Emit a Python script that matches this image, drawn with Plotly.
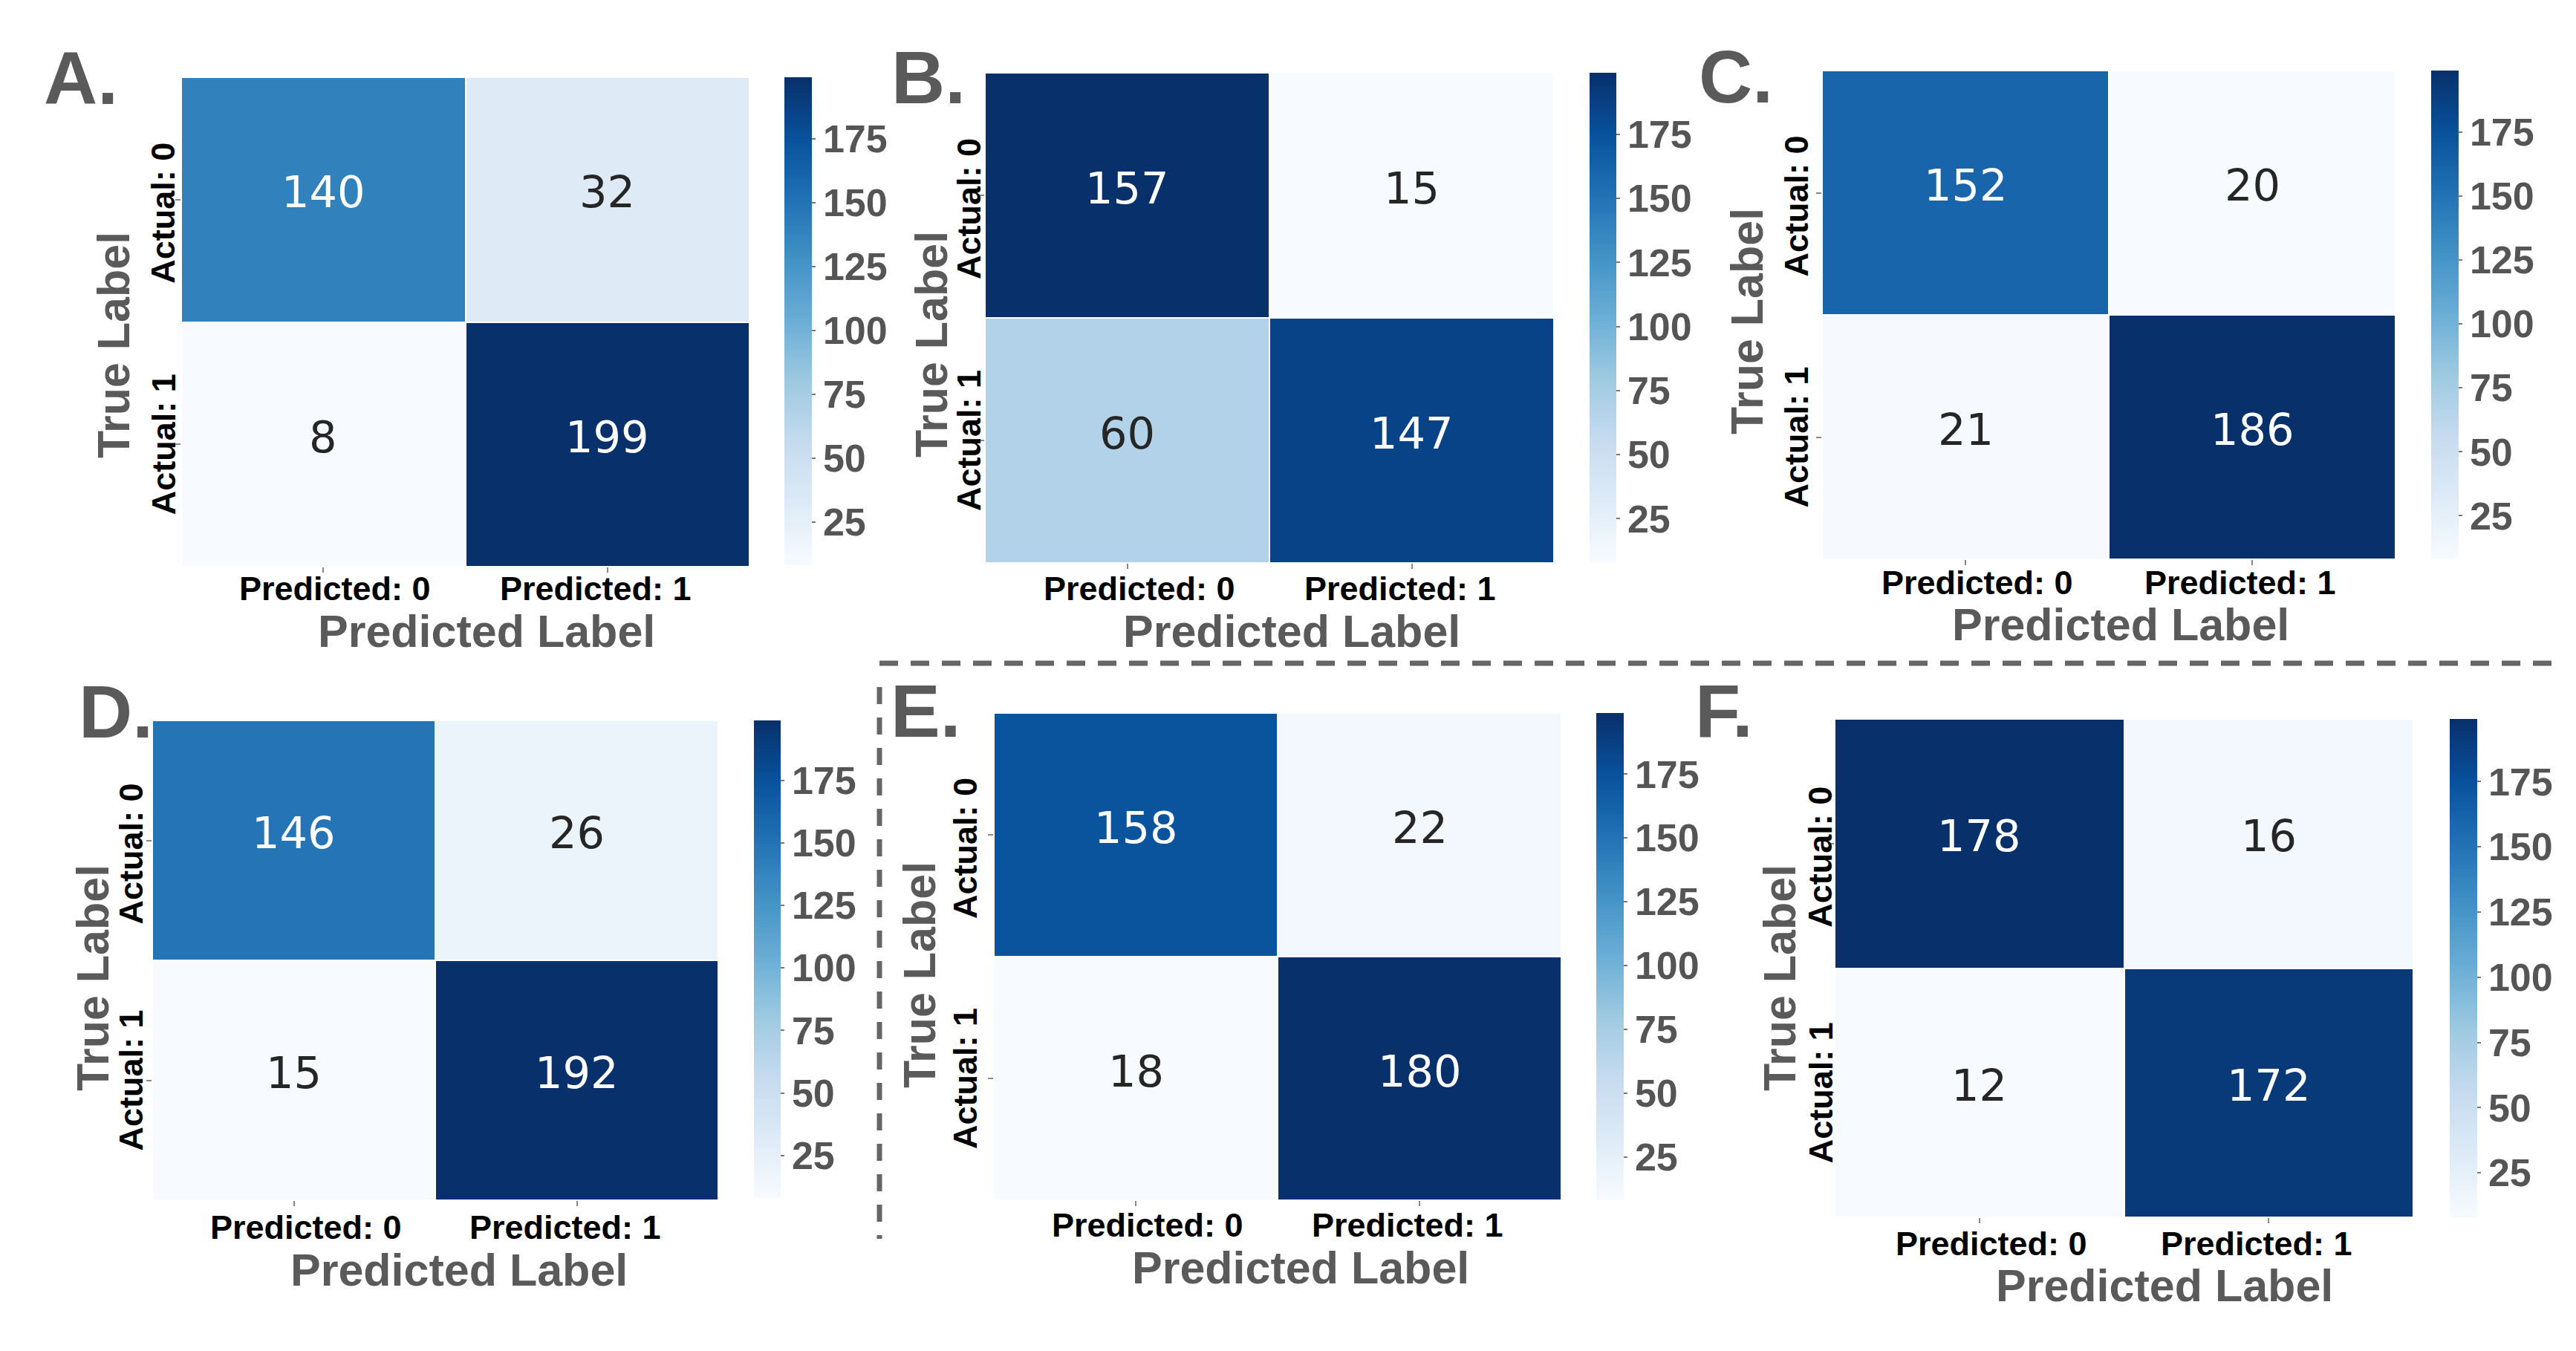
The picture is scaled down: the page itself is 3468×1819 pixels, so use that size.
import plotly.graph_objects as go

# ---------------- data ----------------
panel_names = ["A.", "B.", "C.", "D.", "E.", "F."]
cm_A = [[140, 32], [8, 199]]
cm_B = [[157, 15], [60, 147]]
cm_C = [[152, 20], [21, 186]]
cm_D = [[146, 26], [15, 192]]
cm_E = [[158, 22], [18, 180]]
cm_F = [[178, 16], [12, 172]]
matrices = [cm_A, cm_B, cm_C, cm_D, cm_E, cm_F]
x_labels = ["Predicted: 0", "Predicted: 1"]
y_labels = ["Actual: 0", "Actual: 1"]
cbar_ticks = [25, 50, 75, 100, 125, 150, 175]
x_title = "Predicted Label"
y_title = "True Label"

# ---------------- layout (pixels) ----------------
W, H = 3468, 1819
# heatmap box (l,t,r,b), colorbar box, letter centre, y-title centre, y-tick x, x-tick y, x-title centre
layout_px = [
    dict(hm=(236, 96, 1001, 755), cb=(1048, 96, 1085, 753), let=(101, 97), yt=(145, 457), ytx=212, xty=785, xt=(647, 842)),
    dict(hm=(1318, 90, 2084, 750), cb=(2132, 90, 2168, 749), let=(1242, 96), yt=(1246, 456), ytx=1296, xty=785, xt=(1731, 842)),
    dict(hm=(2445, 87, 3217, 745), cb=(3265, 87, 3302, 745), let=(2329, 95), yt=(2344, 425), ytx=2410, xty=776, xt=(2847, 833)),
    dict(hm=(197, 962, 959, 1608), cb=(1007, 962, 1043, 1605), let=(148, 950), yt=(117, 1309), ytx=168, xty=1644, xt=(610, 1702)),
    dict(hm=(1330, 952, 2094, 1608), cb=(2141, 952, 2178, 1608), let=(1238, 949), yt=(1230, 1305), ytx=1291, xty=1641, xt=(1743, 1699)),
    dict(hm=(2462, 960, 3241, 1631), cb=(3290, 960, 3327, 1631), let=(2313, 949), yt=(2388, 1309), ytx=2443, xty=1666, xt=(2906, 1723)),
]

BLUES = ["#f7fbff", "#deebf7", "#c6dbef", "#9ecae1", "#6baed6",
         "#4292c6", "#2171b5", "#08519c", "#08306b"]
colorscale = [[i / (len(BLUES) - 1), c] for i, c in enumerate(BLUES)]

GRAY = "#5a5a5a"
SANS = "Liberation Sans"


def px_x(p):
    return p / W


def px_y(p):
    return 1 - p / H


def hex_rgb(h):
    h = h.lstrip("#")
    return tuple(int(h[i:i + 2], 16) / 255 for i in (0, 2, 4))


def color_at(t):
    t = min(max(t, 0), 1) * (len(BLUES) - 1)
    i = min(int(t), len(BLUES) - 2)
    f = t - i
    a, b = hex_rgb(BLUES[i]), hex_rgb(BLUES[i + 1])
    return tuple(a[k] + (b[k] - a[k]) * f for k in range(3))


def luminance(rgb):
    lin = [c / 12.92 if c <= 0.03928 else ((c + 0.055) / 1.055) ** 2.4 for c in rgb]
    return 0.2126 * lin[0] + 0.7152 * lin[1] + 0.0722 * lin[2]


all_vals = [v for m in matrices for row in m for v in row]
gmin, gmax = min(all_vals), max(all_vals)

fig = go.Figure()
annotations = []

for k, (name, cm, L) in enumerate(zip(panel_names, matrices, layout_px)):
    n = k + 1
    xa = "x" if n == 1 else f"x{n}"
    ya = "y" if n == 1 else f"y{n}"
    flat = [v for row in cm for v in row]
    zmin, zmax = min(flat), max(flat)

    fig.add_trace(go.Heatmap(
        z=cm, x=[0, 1], y=[0, 1], colorscale=colorscale, zmin=zmin, zmax=zmax,
        showscale=False, xgap=2, ygap=2, hoverinfo="z", xaxis=xa, yaxis=ya))

    cl, ct, cr, cbt = L["cb"]
    fig.add_trace(go.Scatter(
        x=[None], y=[None], mode="markers", xaxis=xa, yaxis=ya, hoverinfo="skip",
        showlegend=False,
        marker=dict(color=[gmin, gmax], cmin=gmin, cmax=gmax, colorscale=colorscale,
                    showscale=True,
                    colorbar=dict(x=px_x(cl), xanchor="left", y=px_y(ct), yanchor="top",
                                  len=cbt - ct, lenmode="pixels",
                                  thickness=cr - cl, thicknessmode="pixels",
                                  xpad=0, ypad=0, outlinewidth=0,
                                  tickvals=cbar_ticks, ticks="outside", ticklen=5,
                                  tickwidth=2, tickcolor="#777",
                                  tickfont=dict(family=SANS, size=52, color="#555", weight="bold")))))

    l, t, r, b = L["hm"]
    axis_common = dict(showgrid=False, zeroline=False, showticklabels=False,
                       ticks="outside", ticklen=7, tickwidth=2, tickcolor="#888",
                       tickvals=[0, 1], showline=False, fixedrange=True)
    fig.update_layout(**{
        ("xaxis" if n == 1 else f"xaxis{n}"): dict(domain=[px_x(l), px_x(r)], range=[-0.5, 1.5],
                                                  anchor=ya, **axis_common),
        ("yaxis" if n == 1 else f"yaxis{n}"): dict(domain=[px_y(b), px_y(t)], range=[1.5, -0.5],
                                                  anchor=xa, **axis_common),
    })

    # cell values
    for i in range(2):
        for j in range(2):
            v = cm[i][j]
            rgb = color_at((v - zmin) / (zmax - zmin))
            tc = "#262626" if luminance(rgb) > 0.408 else "white"
            annotations.append(dict(x=j, y=i, xref=xa, yref=ya, text=str(v), showarrow=False,
                                    font=dict(family="DejaVu Sans", size=59, color=tc),
                                    xanchor="center", yanchor="middle", yshift=10))

    # x tick labels
    for j, lab in enumerate(x_labels):
        annotations.append(dict(x=j, y=px_y(L["xty"]), xref=xa, yref="paper", text=lab,
                                showarrow=False, xanchor="center", yanchor="middle",
                                xshift=16 if j == 0 else -16, borderpad=0,
                                font=dict(family=SANS, size=45, color="black", weight="bold")))
    # y tick labels
    for i, lab in enumerate(y_labels):
        annotations.append(dict(x=px_x(L["ytx"]), y=i, xref="paper", yref=ya, text=lab,
                                showarrow=False, xanchor="center", yanchor="middle",
                                textangle=-90, yshift=-18 if i == 0 else 0, borderpad=0,
                                font=dict(family=SANS, size=45, color="black", weight="bold")))
    # axis titles
    annotations.append(dict(x=px_x(L["xt"][0]), y=px_y(L["xt"][1]), xref="paper", yref="paper",
                            text=x_title, showarrow=False, xanchor="center", yanchor="middle",
                            borderpad=0,
                            font=dict(family=SANS, size=61, color=GRAY, weight="bold")))
    annotations.append(dict(x=px_x(L["yt"][0]), y=px_y(L["yt"][1]), xref="paper", yref="paper",
                            text=y_title, showarrow=False, xanchor="center", yanchor="middle",
                            textangle=-90, borderpad=0,
                            font=dict(family=SANS, size=61, color=GRAY, weight="bold")))
    # panel letter
    annotations.append(dict(x=px_x(L["let"][0]), y=px_y(L["let"][1]), xref="paper", yref="paper",
                            text=name, showarrow=False, xanchor="center", yanchor="middle",
                            borderpad=0,
                            font=dict(family=SANS, size=100, color=GRAY, weight="bold")))

shapes = [
    dict(type="line", xref="paper", yref="paper", x0=px_x(1176), x1=px_x(3428),
         y0=px_y(885), y1=px_y(885), line=dict(color="#666", width=7, dash="25px,17px")),
    dict(type="line", xref="paper", yref="paper", x0=px_x(1176), x1=px_x(1176),
         y0=px_y(917), y1=px_y(1660), line=dict(color="#666", width=7, dash="23px,18px")),
]

fig.update_layout(width=W, height=H, margin=dict(l=0, r=0, t=0, b=0),
                  paper_bgcolor="white", plot_bgcolor="white",
                  annotations=annotations, shapes=shapes, showlegend=False)

fig.write_html("out.html", config={"displayModeBar": False})
